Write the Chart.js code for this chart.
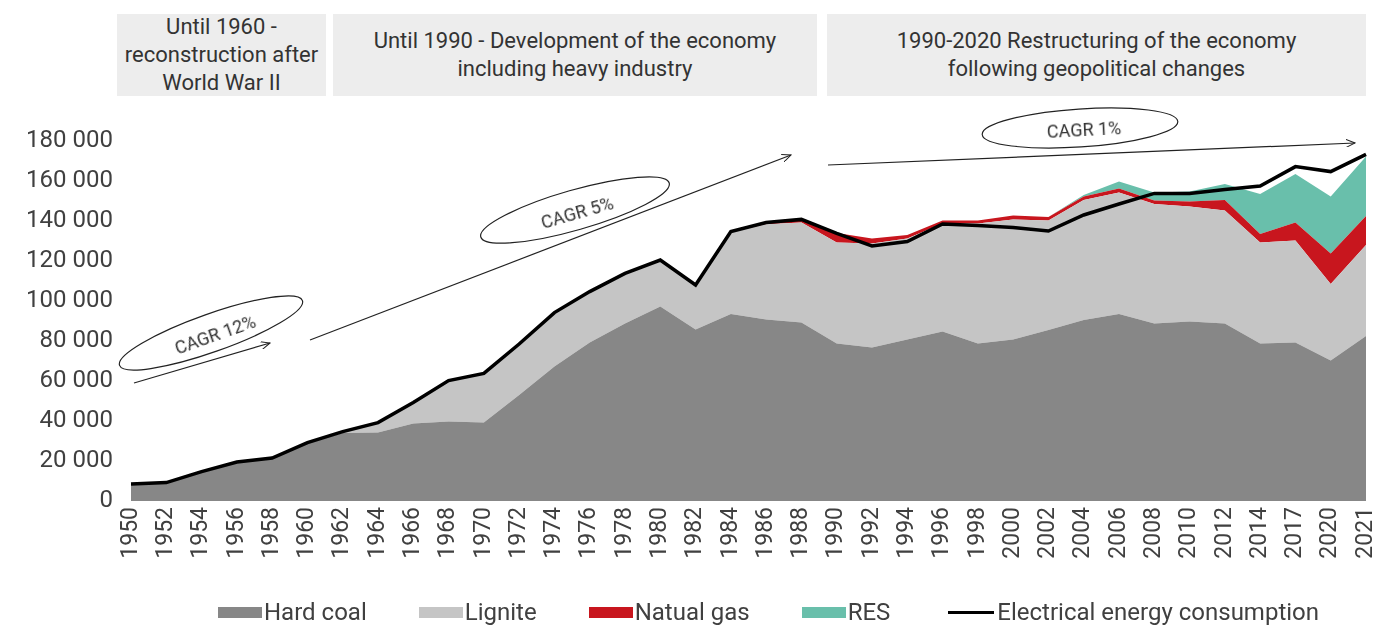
<!DOCTYPE html>
<html>
<head>
<meta charset="utf-8">
<script src="https://cdn.jsdelivr.net/npm/chart.js@4.4.1/dist/chart.umd.min.js"></script>
<style>
  body { margin: 0; background: #fff; font-family: Roboto, "Open Sans", sans-serif; color: #404040; }
  #wrap { position: relative; width: 1376px; height: 625px; overflow: hidden; }
  #c { position: absolute; left: 0; top: 0; }
  .hdr { position: absolute; top: 14px; height: 82px; background: #ededed; display: flex; align-items: center;
         justify-content: center; text-align: center; font-size: 22px; line-height: 28px; color: #333; }
  #ann { position: absolute; left: 0; top: 0; pointer-events: none; }
  #legend { position: absolute; top: 598px; left: 218px; display: flex; align-items: center; font-size: 24px;
            white-space: nowrap; color: #404040; }
  .li { display: flex; align-items: center; margin-right: 52px; }
  .sw { width: 44px; height: 11px; margin-right: 2px; }
  .ln { width: 46px; height: 3px; background: #000; margin-right: 3px; }
</style>
</head>
<body>
<div id="wrap">
  <canvas id="c" width="1376" height="625"></canvas>

  <div class="hdr" style="left:117px;width:209px">Until 1960 -<br>reconstruction after<br>World War II</div>
  <div class="hdr" style="left:333px;width:484px">Until 1990 - Development of the economy<br>including heavy industry</div>
  <div class="hdr" style="left:827px;width:539px">1990-2020 Restructuring of the economy<br>following geopolitical changes</div>

  <svg id="ann" width="1376" height="625">
    <defs>
      <marker id="ah" markerWidth="10" markerHeight="8" refX="9" refY="4" orient="auto" markerUnits="userSpaceOnUse">
        <path d="M0,0 L9,4 L0,8" fill="none" stroke="#222" stroke-width="1"/>
      </marker>
    </defs>
    <g fill="none" stroke="#222" stroke-width="1.2">
      <ellipse cx="211" cy="333" rx="97" ry="19" transform="rotate(-19.5 211 333)"/>
      <line x1="134" y1="383" x2="270" y2="343" marker-end="url(#ah)"/>
      <line x1="310" y1="340" x2="791" y2="155" marker-end="url(#ah)"/>
      <ellipse cx="575" cy="210" rx="98" ry="20" transform="rotate(-16 575 210)"/>
      <line x1="828" y1="165" x2="1355" y2="143" marker-end="url(#ah)"/>
      <ellipse cx="1080" cy="128" rx="98" ry="19" transform="rotate(-3.8 1080 128)"/>
    </g>
    <g font-family="Roboto, sans-serif" font-size="18" fill="#333" text-anchor="middle" dominant-baseline="central">
      <text transform="translate(215 334) rotate(-19.5)">CAGR 12%</text>
      <text transform="translate(577 212) rotate(-16)">CAGR 5%</text>
      <text transform="translate(1084 129) rotate(-3)">CAGR 1%</text>
    </g>
  </svg>

  <div id="legend">
    <div class="li"><div class="sw" style="background:#878787"></div>Hard coal</div>
    <div class="li"><div class="sw" style="background:#c5c5c5"></div>Lignite</div>
    <div class="li"><div class="sw" style="background:#c8161e"></div>Natual gas</div>
    <div class="li" style="margin-right:58px"><div class="sw" style="background:#69bfab"></div>RES</div>
    <div class="li"><div class="ln"></div>Electrical energy consumption</div>
  </div>
</div>

<script>
// data
const years = ['1950','1952','1954','1956','1958','1960','1962','1964','1966','1968','1970','1972',
  '1974','1976','1978','1980','1982','1984','1986','1988','1990','1992','1994','1996','1998','2000',
  '2002','2004','2006','2008','2010','2012','2014','2017','2020','2021'];

const hardCoal = [8300, 9000, 14500, 19300, 21300, 29000, 34000, 34200, 38800, 39700, 39200, 53000,
  67200, 79200, 88800, 97200, 85800, 93500, 90800, 89200, 78800, 76800, 80800, 84700, 78800, 80800,
  85500, 90500, 93500, 88800, 89700, 88800, 78800, 79300, 70200, 82500];

const lignite = [0, 0, 0, 0, 0, 0, 500, 4800, 10200, 20300, 24400, 25300,
  26800, 25300, 24800, 23100, 22000, 40700, 47600, 50000, 50400, 52000, 50500, 54100, 60000, 60000,
  54700, 60000, 60700, 59700, 57500, 56400, 50400, 50900, 38300, 45500];

const naturalGas = [0, 0, 0, 0, 0, 0, 0, 0, 0, 0, 0, 0,
  0, 0, 0, 0, 0, 500, 600, 1300, 4800, 2500, 1700, 1400, 1400, 1900,
  1800, 1700, 2100, 1700, 2500, 5300, 4300, 9000, 15300, 14500];

const res = [0, 0, 0, 0, 0, 0, 0, 0, 0, 0, 0, 0,
  0, 0, 0, 0, 0, 0, 0, 0, 0, 0, 0, 0, 0, 0,
  0, 800, 3400, 4000, 5000, 8000, 20000, 24300, 28400, 29700];

const consumption = [8500, 9200, 14700, 19500, 21500, 29200, 34700, 39200, 49200, 60200, 63800, 78500,
  94200, 104700, 113800, 120500, 108000, 134700, 139200, 140800, 133800, 127500, 129700, 138500, 137700, 136800,
  135000, 143000, 148500, 153800, 153800, 155800, 157500, 167200, 164700, 173300];

const yTicks = [0, 20000, 40000, 60000, 80000, 100000, 120000, 140000, 160000, 180000];

(function () {
  function fmt(v) { return String(v).replace(/\B(?=(\d{3})+(?!\d))/g, ' '); }
  function area(label, data, color, fill) {
    return { label: label, data: data, stack: 'mix', backgroundColor: color, borderColor: 'rgba(0,0,0,0)',
      borderWidth: 0, fill: fill, pointRadius: 0, tension: 0, order: 1 };
  }

  const ctx = document.getElementById('c');
  new Chart(ctx, {
    type: 'line',
    data: {
      labels: years,
      datasets: [
        { label: 'Electrical energy consumption', data: consumption, stack: 'line', borderColor: '#000',
          borderWidth: 3.5, fill: false, pointRadius: 0, tension: 0, order: 0 },
        area('Hard coal', hardCoal, '#878787', 'origin'),
        area('Lignite', lignite, '#c5c5c5', '-1'),
        area('Natual gas', naturalGas, '#c8161e', '-1'),
        area('RES', res, '#69bfab', '-1')
      ]
    },
    options: {
      responsive: false,
      animation: false,
      layout: { padding: { top: 141, right: 10, bottom: 0, left: 0 } },
      plugins: { legend: { display: false }, tooltip: { enabled: false } },
      scales: {
        x: {
          grid: { display: false, drawTicks: false },
          border: { display: false },
          ticks: { autoSkip: false, minRotation: 90, maxRotation: 90, padding: 6, color: '#404040',
            font: { family: 'Roboto', size: 23 } },
          afterFit: function (s) { s.height = 124; s.paddingLeft = 0; s.paddingRight = 0; }
        },
        y: {
          stacked: true,
          min: 0, max: 180000,
          grid: { display: false, drawTicks: false },
          border: { display: false },
          afterBuildTicks: function (s) { s.ticks = yTicks.map(v => ({ value: v })); },
          ticks: { padding: 18, color: '#404040', font: { family: 'Roboto', size: 24 },
            callback: v => fmt(v) },
          afterFit: function (s) { s.width = 131; s.paddingTop = 0; s.paddingBottom = 0; }
        }
      }
    }
  });
})();
</script>
</body>
</html>
